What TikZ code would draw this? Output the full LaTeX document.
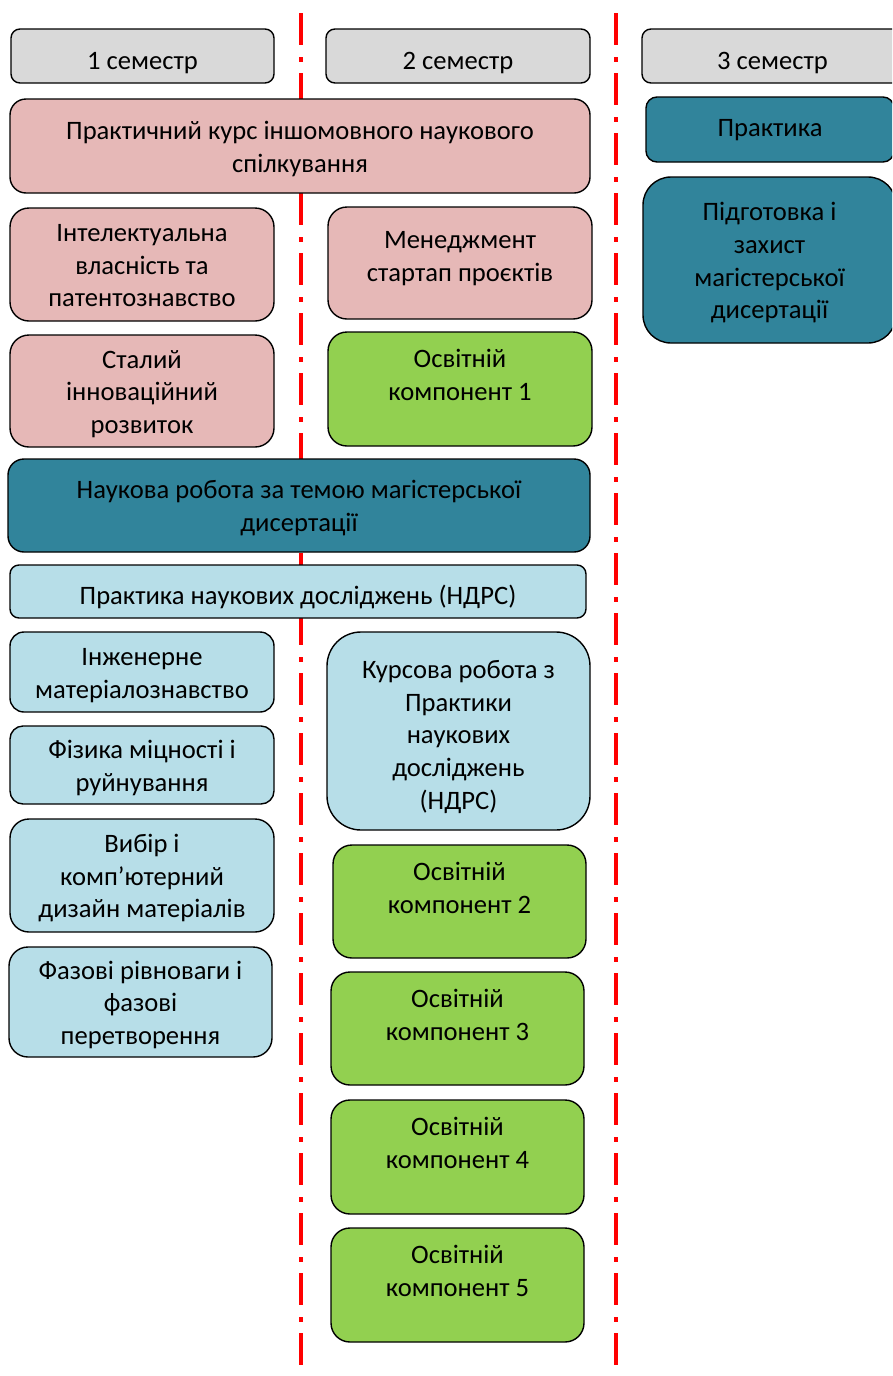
\documentclass[tikz,border=0pt]{standalone}
\usepackage{fontspec}
\setmainfont{Carlito}
\definecolor{cgray}{HTML}{D9D9D9}
\definecolor{cpink}{HTML}{E6B8B7}
\definecolor{cteal}{HTML}{31849B}
\definecolor{clblue}{HTML}{B7DEE8}
\definecolor{cgreen}{HTML}{92D050}
\definecolor{cred}{HTML}{FF0000}
% struts for single-line labels
\newcommand\mystrA{\rule{0pt}{31pt}}
\newcommand\mystrB{\rule[-2pt]{0pt}{0pt}}
% struts for first / last line of multi-line labels
\newcommand\mA{\rule{0pt}{26pt}}
\newcommand\mB{\rule[-6.5pt]{0pt}{0pt}}
\newcommand\mC{\rule[-3pt]{0pt}{0pt}}
\tikzset{
  box/.style={draw=black, line width=1.4pt, align=center, inner sep=0pt,
     font=\fontsize{26.6}{32.7}\selectfont},
  one/.style={execute at begin node=\mystrA, execute at end node=\mystrB},
  grayb/.style={box, fill=cgray},
  pinkb/.style={box, fill=cpink},
  tealb/.style={box, fill=cteal},
  blueb/.style={box, fill=clblue},
  greenb/.style={box, fill=cgreen},
  divider/.style={draw=cred, line width=4pt, dash pattern=on 32pt off 12pt on 5pt off 11pt}
}
\begin{document}
\begin{tikzpicture}[x=1pt,y=-1pt]
\useasboundingbox (0,0) rectangle (892,1376);
\clip (0,0) rectangle (892,1376);
% dividers
\coordinate (d1top) at (300.5,13);
\coordinate (d1bot) at (300.5,1390);
\coordinate (d2top) at (616,13);
\coordinate (d2bot) at (616,1390);
\draw[divider] (d1top) -- (d1bot);
\draw[divider] (d2top) -- (d2bot);
% headers
\node[grayb, one, minimum width=263pt, minimum height=54pt, rounded corners=9pt] (s1) at (142.5,56) {1 семестр};
\node[grayb, one, minimum width=264pt, minimum height=54pt, rounded corners=9pt] (s2) at (458,56) {2 семестр};
\node[grayb, one, minimum width=261pt, minimum height=54pt, rounded corners=9pt] (s3) at (772.5,56) {3 семестр};
% semester 3
\node[tealb, minimum width=248pt, minimum height=65pt, rounded corners=11pt,
      execute at begin node=\rule{0pt}{19pt}, execute at end node=\mystrB] (prakt) at (770,129.5) {Практика};
\node[tealb, minimum width=253pt, minimum height=166pt, rounded corners=28pt] (pidg) at (769.5,260) {\mA Підготовка і\\захист\\магістерської\\дисертації\mB};
% pink
\node[pinkb, minimum width=580pt, minimum height=94pt, rounded corners=16pt] (kurs) at (300,146) {\mA Практичний курс іншомовного наукового\\спілкування\mB};
\node[pinkb, minimum width=264pt, minimum height=113pt, rounded corners=19pt] (intel) at (142,264.5) {\mA Інтелектуальна\\власність та\\патентознавство\mB};
\node[pinkb, minimum width=264pt, minimum height=112pt, rounded corners=19pt] (menej) at (460,263) {\mA Менеджмент\\стартап проєктів\\[-10pt]\mbox{}};
\node[pinkb, minimum width=264pt, minimum height=112pt, rounded corners=19pt] (stal) at (142,391) {\mA Сталий\\інноваційний\\розвиток\mB};
\node[greenb, minimum width=264pt, minimum height=114pt, rounded corners=19pt] (ok1) at (460,389) {\mA Освітній\\компонент 1\\\mC};
% teal
\node[tealb, minimum width=582pt, minimum height=93pt, rounded corners=16pt] (nauk) at (299,505.5) {\mA Наукова робота за темою магістерської\\дисертації\mB};
% light blue
\node[blueb, one, minimum width=576pt, minimum height=53pt, rounded corners=9pt] (ndrs) at (298,591.5) {Практика наукових досліджень (НДРС)};
\node[blueb, minimum width=264pt, minimum height=80pt, rounded corners=14pt] (inzh) at (142,672) {\mA Інженерне\\матеріалознавство\mB};
\node[blueb, minimum width=264pt, minimum height=78pt, rounded corners=13pt] (fiz) at (142,765) {\mA Фізика міцності і\\руйнування\mB};
\node[blueb, minimum width=264pt, minimum height=113pt, rounded corners=19pt] (vybir) at (142,875.5) {\mA Вибір і\\комп’ютерний\\дизайн матеріалів\mB};
\node[blueb, minimum width=263pt, minimum height=110pt, rounded corners=19pt] (faz) at (140.5,1002) {\mA Фазові рівноваги і\\фазові\\перетворення\mB};
\node[blueb, minimum width=263pt, minimum height=198pt, rounded corners=34pt] (kursova) at (458.5,731) {\rule{0pt}{32pt}Курсова робота з\\Практики\\наукових\\досліджень\\(НДРС)\mB};
% green
\node[greenb, minimum width=253pt, minimum height=113pt, rounded corners=19pt] (ok2) at (459.5,901.5) {\mA Освітній\\компонент 2\\\mC};
\node[greenb, minimum width=253pt, minimum height=113pt, rounded corners=19pt] (ok3) at (457.5,1028.5) {\mA Освітній\\компонент 3\\\mC};
\node[greenb, minimum width=253pt, minimum height=114pt, rounded corners=19pt] (ok4) at (457.5,1157) {\mA Освітній\\компонент 4\\\mC};
\node[greenb, minimum width=253pt, minimum height=114pt, rounded corners=19pt] (ok5) at (457.5,1285) {\mA Освітній\\компонент 5\\\mC};
\end{tikzpicture}
\end{document}
